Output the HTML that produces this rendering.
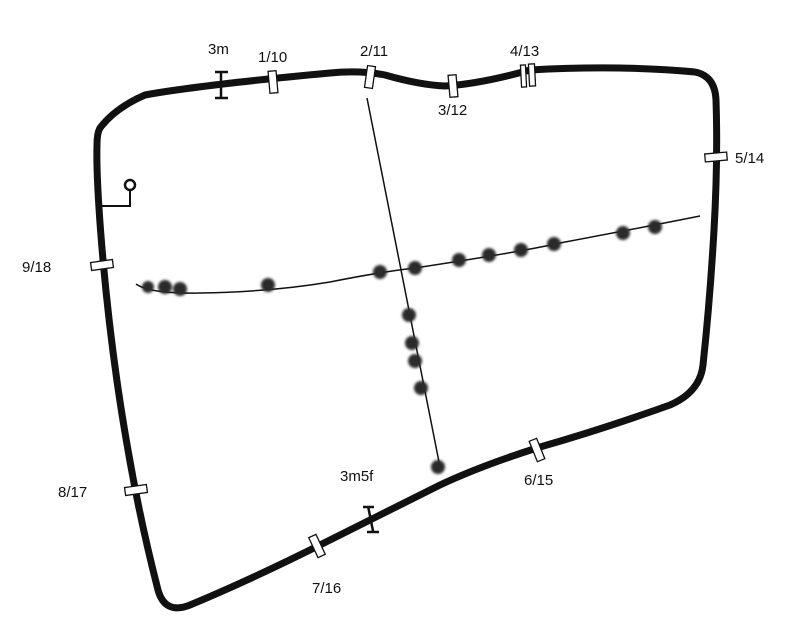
<!DOCTYPE html>
<html><head><style>body{margin:0;background:#fff}svg{display:block}text{font-family:"Liberation Sans",sans-serif;font-size:15px;fill:#111}</style></head><body>
<svg width="800" height="642" viewBox="0 0 800 642">
<defs><filter id="b"><feGaussianBlur stdDeviation="1.3"/></filter></defs>
<path d="M100,128 Q115,108 145,95 Q200,85 330,73 Q360,70 385,75 Q420,85 445,86 Q480,84 530,70 Q620,65 695,72 Q715,76 716,100 Q718,160 714,230 Q710,300 703,365 Q700,392 670,405 Q600,430 540,447 Q480,466 440,485 Q380,515 320,545 Q250,580 190,605 Q165,615 158,590 Q140,520 128,450 Q112,360 103,260 Q96,180 97,145 Q97,133 100,128 Z" fill="none" stroke="#111" stroke-width="7" stroke-linejoin="round"/>
<line x1="367" y1="98" x2="440" y2="467" stroke="#111" stroke-width="1.5"/>
<path d="M136,284 Q150,294 200,293 Q270,292 330,282 Q380,272 415,268 Q520,252 560,243 Q650,226 700,216" fill="none" stroke="#111" stroke-width="1.5"/>
<g fill="#2a2a2a" filter="url(#b)">
<circle cx="148" cy="287" r="6"/><circle cx="165" cy="287" r="7"/><circle cx="180" cy="289" r="7"/><circle cx="268" cy="285" r="7"/>
<circle cx="380" cy="272" r="7"/><circle cx="415" cy="268" r="7"/><circle cx="459" cy="260" r="7"/><circle cx="489" cy="255" r="7"/><circle cx="521" cy="250" r="7"/><circle cx="554" cy="244" r="7"/><circle cx="623" cy="233" r="7"/><circle cx="655" cy="227" r="7"/>
<circle cx="409" cy="315" r="7"/><circle cx="412" cy="343" r="7"/><circle cx="415" cy="361" r="7"/><circle cx="421" cy="388" r="7"/><circle cx="438" cy="467" r="7"/>
</g>
<path d="M100,206 H130 V187" fill="none" stroke="#111" stroke-width="2"/>
<circle cx="130" cy="185" r="5" fill="#fff" stroke="#111" stroke-width="2.5"/>
<g fill="#fff" stroke="#111" stroke-width="1.3">
<rect x="-4" y="-11" width="8" height="22" transform="translate(273,82) rotate(-5)"/>
<rect x="-4" y="-11" width="8" height="22" transform="translate(370,77) rotate(8)"/>
<rect x="-4" y="-11" width="8" height="22" transform="translate(453,86) rotate(-5)"/>
<rect x="-3" y="-11" width="5" height="22" transform="translate(524,76) rotate(-3)"/>
<rect x="-3" y="-11" width="6" height="22" transform="translate(532,75) rotate(-3)"/>
<rect x="-11" y="-4" width="22" height="8" transform="translate(716,157) rotate(-5)"/>
<rect x="-11" y="-4" width="22" height="8" transform="translate(102,265) rotate(-8)"/>
<rect x="-11" y="-4" width="22" height="8" transform="translate(136,490) rotate(-8)"/>
<rect x="-4" y="-11" width="8" height="22" transform="translate(537,450) rotate(-22)"/>
<rect x="-4" y="-11" width="8" height="22" transform="translate(317,546) rotate(-25)"/>
</g>
<g stroke="#111" stroke-width="2.5">
<path d="M221,72 V98 M215,72 H228 M215,98 H228"/>
<path d="M368,506 L373,531 M363,507 H374 M367,532 H379"/>
</g>
<text x="208" y="54">3m</text><text x="258" y="62">1/10</text><text x="360" y="56">2/11</text><text x="438" y="115">3/12</text><text x="510" y="56">4/13</text><text x="735" y="163">5/14</text><text x="22" y="272">9/18</text><text x="58" y="497">8/17</text><text x="524" y="485">6/15</text><text x="340" y="481">3m5f</text><text x="312" y="593">7/16</text>
</svg></body></html>
